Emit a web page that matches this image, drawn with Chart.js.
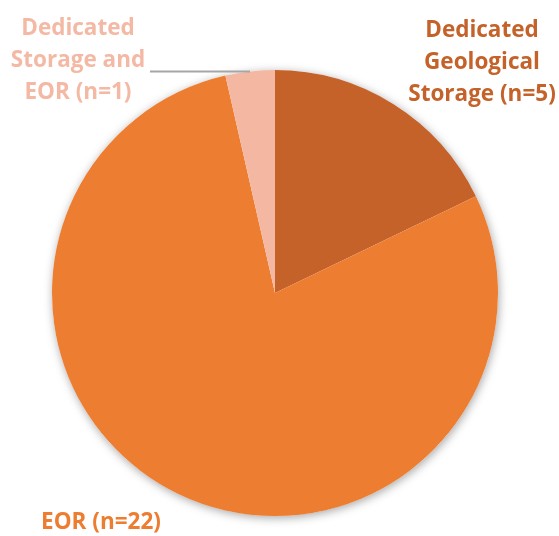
<!DOCTYPE html>
<html>
<head>
<meta charset="utf-8">
<script src="https://cdn.jsdelivr.net/npm/chart.js@4/dist/chart.umd.min.js"></script>
<style>
  html, body { margin: 0; padding: 0; background: #ffffff; }
  #wrap { width: 559px; height: 536px; position: relative; }
</style>
</head>
<body>
<div id="wrap"><canvas id="c" width="559" height="536"></canvas></div>
<script>
const categories = ["Dedicated Geological Storage", "EOR", "Dedicated Storage and EOR"];
const counts = [5, 22, 1];
const labelLines = [
  ["Dedicated", "Geological", "Storage (n=5)"],
  ["EOR (n=22)"],
  ["Dedicated", "Storage and", "EOR (n=1)"]
];
const sliceColors = ["#C4622A", "#ED7D31", "#F4B8A2"];
const textColors = ["#C4622A", "#ED7D31", "#F4B9A4"];

const shadowPlugin = {
  id: 'shadow',
  beforeDatasetsDraw(chart) {
    const arc = chart.getDatasetMeta(0).data[0];
    if (!arc) return;
    const ctx = chart.ctx;
    ctx.save();
    ctx.shadowColor = 'rgba(0,0,0,0.35)';
    ctx.shadowBlur = 10;
    ctx.shadowOffsetX = 1;
    ctx.shadowOffsetY = 2;
    ctx.fillStyle = '#ffffff';
    ctx.beginPath();
    ctx.arc(arc.x, arc.y, arc.outerRadius, 0, Math.PI * 2);
    ctx.fill();
    ctx.restore();
  }
};

const labelPlugin = {
  id: 'labels',
  afterDatasetsDraw(chart) {
    const ctx = chart.ctx;
    const arc0 = chart.getDatasetMeta(0).data[0];
    const cx = arc0.x, cy = arc0.y, r = arc0.outerRadius;
    // label anchor offsets relative to pie centre (annotation placement)
    const anchors = [
      { dx: 207, dy: -262 },
      { dx: -174, dy: 230 },
      { dx: -197, dy: -264 }
    ];
    ctx.save();
    ctx.font = 'bold 22.5px "Open Sans", Lato, sans-serif';
    ctx.textAlign = 'center';
    ctx.textBaseline = 'middle';
    labelLines.forEach((lines, i) => {
      ctx.fillStyle = textColors[i];
      lines.forEach((ln, j) => {
        ctx.fillText(ln, cx + anchors[i].dx, cy + anchors[i].dy + j * 32);
      });
    });
    // leader line for smallest slice
    const a2 = chart.getDatasetMeta(0).data[2];
    const mid = (a2.startAngle + a2.endAngle) / 2;
    const px = cx + Math.cos(mid) * r;
    const py = cy + Math.sin(mid) * r;
    ctx.strokeStyle = '#A6A6A6';
    ctx.lineWidth = 2;
    ctx.beginPath();
    ctx.moveTo(150, py);
    ctx.lineTo(px, py);
    ctx.stroke();
    ctx.restore();
  }
};

new Chart(document.getElementById('c'), {
  type: 'pie',
  data: {
    labels: categories,
    datasets: [{
      data: counts,
      backgroundColor: sliceColors,
      borderWidth: 0
    }]
  },
  options: {
    responsive: false,
    animation: false,
    layout: { padding: { left: 52, right: 61, top: 70, bottom: 20 } },
    plugins: {
      legend: { display: false },
      tooltip: { enabled: false }
    }
  },
  plugins: [shadowPlugin, labelPlugin]
});
</script>
</body>
</html>
